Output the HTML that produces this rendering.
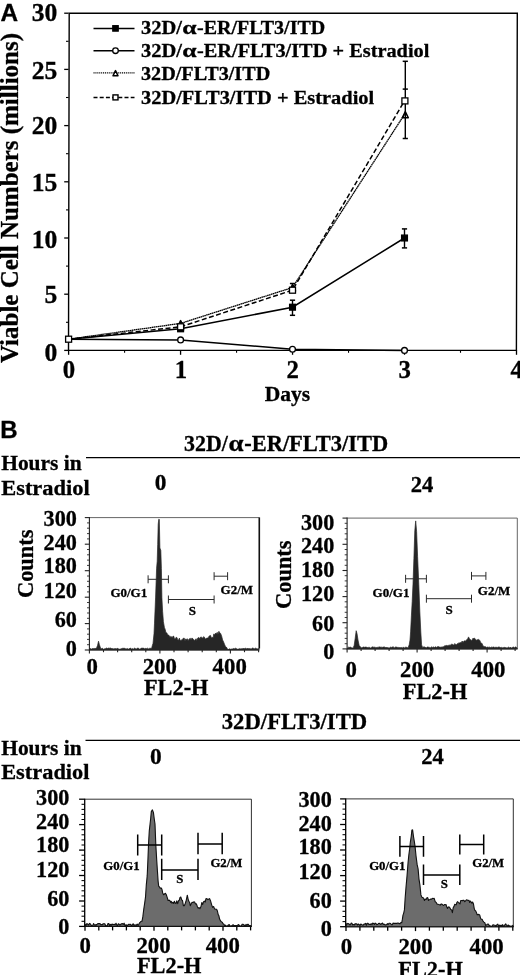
<!DOCTYPE html>
<html><head><meta charset="utf-8"><title>Figure</title>
<style>html,body{margin:0;padding:0;background:#fff}svg{display:block}</style></head>
<body><svg width="520" height="975" viewBox="0 0 520 975">
<rect width="520" height="975" fill="#fff"/>
<g font-family="Liberation Serif, serif" font-weight="bold" fill="#000" stroke="#000" stroke-width="0.3">
<polygon points="68.5,350.4 69.19999999999999,13.2 517.3,13.299999999999999 516.4,350.4" fill="none" stroke="#000" stroke-width="1.4"/>
<line x1="64.19999999999999" y1="350.40" x2="68.6" y2="350.40" stroke="#000" stroke-width="1.3"/>
<line x1="64.19999999999999" y1="294.20" x2="68.6" y2="294.20" stroke="#000" stroke-width="1.3"/>
<line x1="64.19999999999999" y1="238.00" x2="68.6" y2="238.00" stroke="#000" stroke-width="1.3"/>
<line x1="64.19999999999999" y1="181.80" x2="68.6" y2="181.80" stroke="#000" stroke-width="1.3"/>
<line x1="64.19999999999999" y1="125.60" x2="68.6" y2="125.60" stroke="#000" stroke-width="1.3"/>
<line x1="64.19999999999999" y1="69.40" x2="68.6" y2="69.40" stroke="#000" stroke-width="1.3"/>
<line x1="64.19999999999999" y1="13.20" x2="68.6" y2="13.20" stroke="#000" stroke-width="1.3"/>
<line x1="66.0" y1="322.30" x2="68.6" y2="322.30" stroke="#000" stroke-width="1.1"/>
<line x1="66.0" y1="266.10" x2="68.6" y2="266.10" stroke="#000" stroke-width="1.1"/>
<line x1="66.0" y1="209.90" x2="68.6" y2="209.90" stroke="#000" stroke-width="1.1"/>
<line x1="66.0" y1="153.70" x2="68.6" y2="153.70" stroke="#000" stroke-width="1.1"/>
<line x1="66.0" y1="97.50" x2="68.6" y2="97.50" stroke="#000" stroke-width="1.1"/>
<line x1="66.0" y1="41.30" x2="68.6" y2="41.30" stroke="#000" stroke-width="1.1"/>
<line x1="68.60" y1="350.4" x2="68.60" y2="354.79999999999995" stroke="#000" stroke-width="1.3"/>
<line x1="180.57" y1="350.4" x2="180.57" y2="354.79999999999995" stroke="#000" stroke-width="1.3"/>
<line x1="292.55" y1="350.4" x2="292.55" y2="354.79999999999995" stroke="#000" stroke-width="1.3"/>
<line x1="404.52" y1="350.4" x2="404.52" y2="354.79999999999995" stroke="#000" stroke-width="1.3"/>
<line x1="516.50" y1="350.4" x2="516.50" y2="354.79999999999995" stroke="#000" stroke-width="1.3"/>
<line x1="124.59" y1="350.4" x2="124.59" y2="352.79999999999995" stroke="#000" stroke-width="1.1"/>
<line x1="236.56" y1="350.4" x2="236.56" y2="352.79999999999995" stroke="#000" stroke-width="1.1"/>
<line x1="348.54" y1="350.4" x2="348.54" y2="352.79999999999995" stroke="#000" stroke-width="1.1"/>
<line x1="460.51" y1="350.4" x2="460.51" y2="352.79999999999995" stroke="#000" stroke-width="1.1"/>
<text x="57.3" y="361.4" font-size="25.6" text-anchor="end" >0</text>
<text x="57.3" y="303.2" font-size="25.6" text-anchor="end" >5</text>
<text x="57.3" y="247.6" font-size="25.6" text-anchor="end" >10</text>
<text x="57.3" y="191.2" font-size="25.6" text-anchor="end" >15</text>
<text x="57.3" y="133.6" font-size="25.6" text-anchor="end" >20</text>
<text x="57.3" y="79.3" font-size="25.6" text-anchor="end" >25</text>
<text x="57.3" y="20.8" font-size="25.6" text-anchor="end" >30</text>
<text x="68.9" y="378.2" font-size="24.8" text-anchor="middle" >0</text>
<text x="180.9" y="378.2" font-size="24.8" text-anchor="middle" >1</text>
<text x="292.8" y="378.2" font-size="24.8" text-anchor="middle" >2</text>
<text x="404.8" y="378.2" font-size="24.8" text-anchor="middle" >3</text>
<text x="516.8" y="378.2" font-size="24.8" text-anchor="middle" >4</text>
<text x="287.4" y="401.3" font-size="21.3" text-anchor="middle" textLength="45.5" lengthAdjust="spacingAndGlyphs" >Days</text>
<text transform="translate(18,363) rotate(-90)" font-size="25" textLength="330" lengthAdjust="spacingAndGlyphs">Viable Cell Numbers (millions)</text>
<text x="0.4" y="20.6" font-family="Liberation Sans, sans-serif" font-weight="bold" font-size="24" textLength="17.6" lengthAdjust="spacingAndGlyphs">A</text>
<polyline points="68.6,339.2 180.6,339.9 292.5,349.3 404.5,350.4" fill="none" stroke="#000" stroke-width="1.5"/>
<polyline points="68.6,339.2 180.6,328.8 292.5,307.2 404.5,238.0" fill="none" stroke="#000" stroke-width="1.5"/>
<polyline points="68.6,339.2 180.6,323.4 292.5,287.5 404.5,114.4" fill="none" stroke="#000" stroke-width="1.3" stroke-dasharray="1.6 0.4"/>
<polyline points="68.6,339.2 180.6,326.8 292.5,290.2 404.5,100.9" fill="none" stroke="#000" stroke-width="1.5" stroke-dasharray="5 2.5"/>
<line x1="292.5" y1="315.3" x2="292.5" y2="300.2" stroke="#000" stroke-width="1.4"/>
<line x1="289.9" y1="315.3" x2="295.1" y2="315.3" stroke="#000" stroke-width="1.5"/>
<line x1="289.9" y1="300.2" x2="295.1" y2="300.2" stroke="#000" stroke-width="1.5"/>
<line x1="404.5" y1="247.9" x2="404.5" y2="228.9" stroke="#000" stroke-width="1.4"/>
<line x1="401.9" y1="247.9" x2="407.1" y2="247.9" stroke="#000" stroke-width="1.5"/>
<line x1="401.9" y1="228.9" x2="407.1" y2="228.9" stroke="#000" stroke-width="1.5"/>
<line x1="405.3" y1="138.5" x2="405.3" y2="61.3" stroke="#000" stroke-width="1.4"/>
<line x1="402.7" y1="138.5" x2="407.9" y2="138.5" stroke="#000" stroke-width="1.5"/>
<line x1="402.7" y1="89.1" x2="407.9" y2="89.1" stroke="#000" stroke-width="1.5"/>
<line x1="402.7" y1="61.3" x2="407.9" y2="61.3" stroke="#000" stroke-width="1.5"/>
<line x1="292.5" y1="290.8" x2="292.5" y2="283.5" stroke="#000" stroke-width="1.4"/>
<line x1="289.9" y1="283.5" x2="295.1" y2="283.5" stroke="#000" stroke-width="1.5"/>
<line x1="180.6" y1="331.3" x2="180.6" y2="321.2" stroke="#000" stroke-width="1.4"/>
<polygon points="177.6,326.8 183.6,326.8 180.6,320.6" fill="none" stroke="#000" stroke-width="1.5" stroke-linejoin="round"/>
<polygon points="289.5,290.9 295.5,290.9 292.5,284.7" fill="none" stroke="#000" stroke-width="1.5" stroke-linejoin="round"/>
<polygon points="402.3,117.8 408.3,117.8 405.3,111.6" fill="none" stroke="#000" stroke-width="1.5" stroke-linejoin="round"/>
<rect x="177.7" y="325.9" width="5.8" height="5.8" fill="#000" stroke="#000" stroke-width="1.3"/>
<rect x="289.6" y="304.3" width="5.8" height="5.8" fill="#000" stroke="#000" stroke-width="1.3"/>
<rect x="401.6" y="235.1" width="5.8" height="5.8" fill="#000" stroke="#000" stroke-width="1.3"/>
<rect x="65.6" y="336.2" width="6.0" height="6.0" fill="#fff" stroke="#000" stroke-width="1.3"/>
<rect x="177.6" y="323.8" width="6.0" height="6.0" fill="#fff" stroke="#000" stroke-width="1.3"/>
<rect x="289.5" y="287.2" width="6.0" height="6.0" fill="#fff" stroke="#000" stroke-width="1.3"/>
<rect x="401.9" y="97.9" width="6.0" height="6.0" fill="#fff" stroke="#000" stroke-width="1.3"/>
<circle cx="180.6" cy="339.9" r="2.9" fill="#fff" stroke="#000" stroke-width="1.3"/>
<circle cx="292.5" cy="349.3" r="2.9" fill="#fff" stroke="#000" stroke-width="1.3"/>
<circle cx="404.5" cy="350.4" r="2.9" fill="#fff" stroke="#000" stroke-width="1.3"/>
<line x1="93.5" y1="28.4" x2="134.5" y2="28.4" stroke="#000" stroke-width="1.5"/>
<rect x="112.8" y="25.7" width="5.4" height="5.4" fill="#000" stroke="#000" stroke-width="1.3"/>
<text x="141.0" y="34.0" font-size="19.8" text-anchor="start" textLength="40.9" lengthAdjust="spacingAndGlyphs" >32D/</text>
<text x="182.3" y="34.0" font-size="19.8" text-anchor="start" textLength="14.3" lengthAdjust="spacingAndGlyphs" >α</text>
<text x="197.0" y="34.0" font-size="19.8" text-anchor="start" textLength="128.2" lengthAdjust="spacingAndGlyphs" >-ER/FLT3/ITD</text>
<line x1="93.5" y1="50.7" x2="134.5" y2="50.7" stroke="#000" stroke-width="1.5"/>
<circle cx="115.5" cy="50.7" r="2.8" fill="#fff" stroke="#000" stroke-width="1.3"/>
<text x="141.0" y="57.0" font-size="19.8" text-anchor="start" textLength="40.9" lengthAdjust="spacingAndGlyphs" >32D/</text>
<text x="182.3" y="57.0" font-size="19.8" text-anchor="start" textLength="14.3" lengthAdjust="spacingAndGlyphs" >α</text>
<text x="197.0" y="57.0" font-size="19.8" text-anchor="start" textLength="232.4" lengthAdjust="spacingAndGlyphs" >-ER/FLT3/ITD + Estradiol</text>
<line x1="93.5" y1="72.9" x2="134.5" y2="72.9" stroke="#000" stroke-width="1.3" stroke-dasharray="1.1 0.8"/>
<polygon points="113.0,75.8 118.0,75.8 115.5,70.6" fill="#fff" stroke="#000" stroke-width="1.5" stroke-linejoin="round"/>
<text x="141.0" y="79.9" font-size="19.8" text-anchor="start" textLength="129.2" lengthAdjust="spacingAndGlyphs" >32D/FLT3/ITD</text>
<line x1="93.5" y1="97.4" x2="134.5" y2="97.4" stroke="#000" stroke-width="1.5" stroke-dasharray="4 2.2"/>
<rect x="113.0" y="94.9" width="5.0" height="5.0" fill="#fff" stroke="#000" stroke-width="1.4"/>
<text x="141.0" y="103.6" font-size="19.8" text-anchor="start" textLength="233.2" lengthAdjust="spacingAndGlyphs" >32D/FLT3/ITD + Estradiol</text>
<text x="0.2" y="437.5" font-family="Liberation Sans, sans-serif" font-weight="bold" font-size="24">B</text>
<text x="184.0" y="450.8" font-size="22.4" text-anchor="start" textLength="43.8" lengthAdjust="spacingAndGlyphs" >32D/</text>
<text x="228.5" y="450.8" font-size="22.4" text-anchor="start" textLength="15.0" lengthAdjust="spacingAndGlyphs" >α</text>
<text x="244.2" y="450.8" font-size="22.4" text-anchor="start" textLength="144.0" lengthAdjust="spacingAndGlyphs" >-ER/FLT3/ITD</text>
<line x1="86" y1="457.6" x2="520" y2="457.6" stroke="#000" stroke-width="1.4"/>
<text x="1.2" y="469.7" font-size="21.6" text-anchor="start" textLength="80.5" lengthAdjust="spacingAndGlyphs" >Hours in</text>
<text x="1.2" y="495" font-size="21.6" text-anchor="start" textLength="88.5" lengthAdjust="spacingAndGlyphs" >Estradiol</text>
<text x="160.6" y="489.6" font-size="23.4" text-anchor="middle" >0</text>
<text x="422.1" y="491.5" font-size="23" text-anchor="middle" textLength="22.6" lengthAdjust="spacingAndGlyphs" >24</text>
<text x="294.5" y="729" font-size="22.7" text-anchor="middle" textLength="145.5" lengthAdjust="spacingAndGlyphs" >32D/FLT3/ITD</text>
<line x1="85.5" y1="740.4" x2="520" y2="740.4" stroke="#000" stroke-width="1.4"/>
<text x="1.2" y="754.8" font-size="21.6" text-anchor="start" textLength="80.5" lengthAdjust="spacingAndGlyphs" >Hours in</text>
<text x="1.2" y="779.2" font-size="21.6" text-anchor="start" textLength="88.3" lengthAdjust="spacingAndGlyphs" >Estradiol</text>
<text x="155.8" y="763.7" font-size="23.4" text-anchor="middle" >0</text>
<text x="432.5" y="763.5" font-size="23" text-anchor="middle" textLength="22.6" lengthAdjust="spacingAndGlyphs" >24</text>
<path d="M89.4,517.6 H259.0 V650.0" fill="none" stroke="#555" stroke-width="0.9"/>
<path d="M89.4,517.1 V650.0 H259.4" fill="none" stroke="#222" stroke-width="1.1"/>
<line x1="84.8" y1="517.6" x2="89.4" y2="517.6" stroke="#222" stroke-width="1.1"/>
<line x1="87.0" y1="522.9" x2="89.4" y2="522.9" stroke="#222" stroke-width="0.88"/>
<line x1="87.0" y1="528.2" x2="89.4" y2="528.2" stroke="#222" stroke-width="0.88"/>
<line x1="87.0" y1="533.6" x2="89.4" y2="533.6" stroke="#222" stroke-width="0.88"/>
<line x1="87.0" y1="538.9" x2="89.4" y2="538.9" stroke="#222" stroke-width="0.88"/>
<line x1="84.8" y1="544.2" x2="89.4" y2="544.2" stroke="#222" stroke-width="1.1"/>
<line x1="87.0" y1="549.5" x2="89.4" y2="549.5" stroke="#222" stroke-width="0.88"/>
<line x1="87.0" y1="554.8" x2="89.4" y2="554.8" stroke="#222" stroke-width="0.88"/>
<line x1="87.0" y1="560.1" x2="89.4" y2="560.1" stroke="#222" stroke-width="0.88"/>
<line x1="87.0" y1="565.4" x2="89.4" y2="565.4" stroke="#222" stroke-width="0.88"/>
<line x1="84.8" y1="570.7" x2="89.4" y2="570.7" stroke="#222" stroke-width="1.1"/>
<line x1="87.0" y1="576.0" x2="89.4" y2="576.0" stroke="#222" stroke-width="0.88"/>
<line x1="87.0" y1="581.3" x2="89.4" y2="581.3" stroke="#222" stroke-width="0.88"/>
<line x1="87.0" y1="586.6" x2="89.4" y2="586.6" stroke="#222" stroke-width="0.88"/>
<line x1="87.0" y1="591.9" x2="89.4" y2="591.9" stroke="#222" stroke-width="0.88"/>
<line x1="84.8" y1="597.2" x2="89.4" y2="597.2" stroke="#222" stroke-width="1.1"/>
<line x1="87.0" y1="602.5" x2="89.4" y2="602.5" stroke="#222" stroke-width="0.88"/>
<line x1="87.0" y1="607.8" x2="89.4" y2="607.8" stroke="#222" stroke-width="0.88"/>
<line x1="87.0" y1="613.0" x2="89.4" y2="613.0" stroke="#222" stroke-width="0.88"/>
<line x1="87.0" y1="618.3" x2="89.4" y2="618.3" stroke="#222" stroke-width="0.88"/>
<line x1="84.8" y1="623.6" x2="89.4" y2="623.6" stroke="#222" stroke-width="1.1"/>
<line x1="87.0" y1="628.9" x2="89.4" y2="628.9" stroke="#222" stroke-width="0.88"/>
<line x1="87.0" y1="634.2" x2="89.4" y2="634.2" stroke="#222" stroke-width="0.88"/>
<line x1="87.0" y1="639.4" x2="89.4" y2="639.4" stroke="#222" stroke-width="0.88"/>
<line x1="87.0" y1="644.7" x2="89.4" y2="644.7" stroke="#222" stroke-width="0.88"/>
<line x1="84.8" y1="650.0" x2="89.4" y2="650.0" stroke="#222" stroke-width="1.1"/>
<line x1="89.4" y1="650.0" x2="89.4" y2="653.5" stroke="#222" stroke-width="1.1"/>
<line x1="103.5" y1="650.0" x2="103.5" y2="652.2" stroke="#222" stroke-width="1.1"/>
<line x1="117.6" y1="650.0" x2="117.6" y2="652.2" stroke="#222" stroke-width="1.1"/>
<line x1="131.7" y1="650.0" x2="131.7" y2="652.2" stroke="#222" stroke-width="1.1"/>
<line x1="145.8" y1="650.0" x2="145.8" y2="652.2" stroke="#222" stroke-width="1.1"/>
<line x1="159.9" y1="650.0" x2="159.9" y2="653.5" stroke="#222" stroke-width="1.1"/>
<line x1="174.0" y1="650.0" x2="174.0" y2="652.2" stroke="#222" stroke-width="1.1"/>
<line x1="188.1" y1="650.0" x2="188.1" y2="652.2" stroke="#222" stroke-width="1.1"/>
<line x1="202.2" y1="650.0" x2="202.2" y2="652.2" stroke="#222" stroke-width="1.1"/>
<line x1="216.3" y1="650.0" x2="216.3" y2="652.2" stroke="#222" stroke-width="1.1"/>
<line x1="230.4" y1="650.0" x2="230.4" y2="653.5" stroke="#222" stroke-width="1.1"/>
<line x1="244.5" y1="650.0" x2="244.5" y2="652.2" stroke="#222" stroke-width="1.1"/>
<line x1="258.6" y1="650.0" x2="258.6" y2="652.2" stroke="#222" stroke-width="1.1"/>
<path d="M89.9,650.0 L89.9,648.5 L90.7,648.7 L91.6,649.1 L92.4,648.6 L93.3,648.6 L94.1,648.7 L95.0,648.2 L95.8,648.6 L96.6,647.7 L97.6,645.3 L98.5,641.2 L99.3,644.3 L100.2,647.1 L100.8,648.5 L101.4,648.8 L102.2,648.1 L103.0,649.2 L103.7,649.2 L104.5,648.8 L105.3,648.7 L106.1,648.2 L106.9,648.0 L107.7,648.6 L108.4,648.1 L109.2,648.2 L110.0,648.3 L110.8,648.0 L111.6,648.6 L112.4,648.5 L113.2,649.0 L114.0,648.6 L114.8,648.8 L115.6,648.6 L116.4,648.8 L117.2,648.5 L118.0,648.3 L118.8,649.2 L119.6,649.2 L120.4,649.0 L121.2,648.8 L122.0,648.4 L122.8,648.3 L123.6,648.3 L124.4,648.1 L125.2,648.9 L126.0,648.5 L126.8,649.0 L127.6,648.5 L128.4,649.1 L129.2,649.0 L130.0,648.0 L130.8,648.3 L131.6,649.1 L132.4,648.6 L133.2,649.2 L134.0,648.5 L134.8,648.1 L135.6,648.8 L136.4,648.9 L137.2,648.3 L138.0,648.1 L138.8,648.4 L139.6,649.2 L140.4,648.9 L141.2,648.1 L142.0,648.3 L142.8,648.1 L143.6,648.1 L144.4,649.0 L145.2,648.2 L146.0,648.7 L146.8,648.5 L147.6,648.2 L148.4,648.9 L149.2,648.2 L150.0,648.8 L150.8,648.1 L151.6,648.5 L152.3,645.6 L153.0,643.4 L154.0,633.7 L154.5,623.2 L155.6,597.1 L156.6,568.2 L157.2,561.3 L157.7,544.4 L158.2,524.3 L158.8,519.2 L159.3,519.4 L159.9,548.0 L160.8,550.3 L161.4,568.7 L161.9,597.8 L162.6,611.3 L163.4,621.7 L164.4,627.4 L165.2,629.4 L166.0,633.1 L166.8,632.8 L167.7,634.9 L168.5,635.1 L169.2,635.6 L170.0,637.6 L170.8,636.3 L171.5,636.8 L172.2,638.1 L173.0,636.1 L173.8,636.3 L174.5,639.0 L175.2,638.9 L176.0,637.4 L176.8,637.4 L177.7,639.4 L178.5,640.2 L179.4,638.1 L180.2,640.6 L181.0,640.4 L181.8,639.7 L182.6,639.2 L183.4,638.2 L184.2,638.1 L185.0,641.0 L185.8,638.8 L186.5,640.1 L187.3,638.7 L188.0,640.4 L188.8,639.7 L189.5,638.7 L190.3,638.3 L191.1,640.0 L191.9,638.0 L192.7,638.5 L193.6,639.5 L194.4,640.5 L195.2,639.7 L196.0,638.7 L196.8,640.5 L197.6,638.2 L198.4,637.4 L199.2,638.0 L200.0,638.4 L200.7,637.0 L201.5,637.2 L202.2,637.7 L202.9,638.2 L203.7,636.6 L204.4,637.2 L205.2,638.8 L205.9,639.1 L206.7,638.0 L207.5,638.1 L208.2,637.7 L209.0,636.2 L209.8,635.7 L210.6,635.4 L211.4,638.1 L212.2,637.3 L213.0,637.9 L213.8,633.9 L214.6,635.1 L215.5,633.1 L216.3,633.9 L217.2,632.3 L218.0,634.5 L218.9,631.3 L219.7,632.8 L220.6,633.4 L221.6,635.9 L222.6,639.9 L223.6,642.0 L224.5,644.3 L225.4,646.4 L226.3,647.0 L227.1,648.3 L227.8,649.5 L228.6,649.4 L229.4,648.8 L230.2,649.2 L231.0,649.3 L231.8,648.9 L232.6,648.9 L233.4,648.5 L234.2,648.7 L235.0,648.7 L235.8,648.1 L236.6,648.8 L237.4,649.2 L238.2,649.1 L239.1,648.9 L239.9,648.5 L240.7,648.9 L241.5,648.7 L242.3,648.5 L243.1,649.0 L243.9,648.1 L244.7,648.9 L245.5,648.0 L246.3,648.7 L247.2,648.6 L248.0,648.3 L248.8,648.8 L249.6,648.6 L250.4,648.7 L251.2,649.1 L252.0,648.3 L252.8,648.0 L253.6,648.4 L254.4,648.8 L255.3,648.2 L256.1,648.2 L256.9,649.1 L257.7,648.8 L258.5,648.5 L258.5,650.0 Z" fill="#262626" stroke="#262626" stroke-width="0.7" stroke-linejoin="round"/>
<path d="M148.1,579.3 H168.4 M148.1,575.3 V583.3 M168.4,575.3 V583.3" fill="none" stroke="#2a2a2a" stroke-width="1.0"/>
<path d="M168.4,599.5 H214.1 M168.4,595.5 V603.5 M214.1,595.5 V603.5" fill="none" stroke="#2a2a2a" stroke-width="1.0"/>
<path d="M214.1,576.2 H227.6 M214.1,572.2 V580.2 M227.6,572.2 V580.2" fill="none" stroke="#2a2a2a" stroke-width="1.0"/>
<text x="128.8" y="597.4" font-size="13" text-anchor="middle" >G0/G1</text>
<text x="192.3" y="615.0" font-size="13" text-anchor="middle" >S</text>
<text x="236.8" y="593.8" font-size="13" text-anchor="middle" >G2/M</text>
<text x="76.9" y="526.3" font-size="22.2" text-anchor="end" >300</text>
<text x="76.9" y="549.6" font-size="22.2" text-anchor="end" >240</text>
<text x="76.9" y="573.0" font-size="22.2" text-anchor="end" >180</text>
<text x="76.9" y="597.6" font-size="22.2" text-anchor="end" >120</text>
<text x="76.9" y="627.1" font-size="22.2" text-anchor="end" >60</text>
<text x="76.9" y="655.5" font-size="22.2" text-anchor="end" >0</text>
<text x="92.2" y="673.5" font-size="22.8" text-anchor="middle" >0</text>
<text x="159.8" y="673.5" font-size="22.8" text-anchor="middle" >200</text>
<text x="229.7" y="673.5" font-size="22.8" text-anchor="middle" >400</text>
<text x="176.2" y="694.6" font-size="22.4" text-anchor="middle" textLength="64.5" lengthAdjust="spacingAndGlyphs" >FL2-H</text>
<text transform="translate(33,563.8) rotate(-90)" font-size="22.5" text-anchor="middle" textLength="68.5" lengthAdjust="spacingAndGlyphs">Counts</text>
<line x1="259.4" y1="517.4" x2="259.4" y2="648.5" stroke="#111" stroke-width="1.4"/>
<path d="M347.1,518.1 H517.3 V648.9" fill="none" stroke="#555" stroke-width="0.9"/>
<path d="M347.1,517.6 V648.9 H517.6999999999999" fill="none" stroke="#222" stroke-width="1.1"/>
<line x1="342.5" y1="518.1" x2="347.1" y2="518.1" stroke="#222" stroke-width="1.1"/>
<line x1="344.7" y1="523.3" x2="347.1" y2="523.3" stroke="#222" stroke-width="0.88"/>
<line x1="344.7" y1="528.6" x2="347.1" y2="528.6" stroke="#222" stroke-width="0.88"/>
<line x1="344.7" y1="533.8" x2="347.1" y2="533.8" stroke="#222" stroke-width="0.88"/>
<line x1="344.7" y1="539.1" x2="347.1" y2="539.1" stroke="#222" stroke-width="0.88"/>
<line x1="342.5" y1="544.3" x2="347.1" y2="544.3" stroke="#222" stroke-width="1.1"/>
<line x1="344.7" y1="549.5" x2="347.1" y2="549.5" stroke="#222" stroke-width="0.88"/>
<line x1="344.7" y1="554.8" x2="347.1" y2="554.8" stroke="#222" stroke-width="0.88"/>
<line x1="344.7" y1="560.0" x2="347.1" y2="560.0" stroke="#222" stroke-width="0.88"/>
<line x1="344.7" y1="565.3" x2="347.1" y2="565.3" stroke="#222" stroke-width="0.88"/>
<line x1="342.5" y1="570.5" x2="347.1" y2="570.5" stroke="#222" stroke-width="1.1"/>
<line x1="344.7" y1="575.7" x2="347.1" y2="575.7" stroke="#222" stroke-width="0.88"/>
<line x1="344.7" y1="580.9" x2="347.1" y2="580.9" stroke="#222" stroke-width="0.88"/>
<line x1="344.7" y1="586.2" x2="347.1" y2="586.2" stroke="#222" stroke-width="0.88"/>
<line x1="344.7" y1="591.4" x2="347.1" y2="591.4" stroke="#222" stroke-width="0.88"/>
<line x1="342.5" y1="596.6" x2="347.1" y2="596.6" stroke="#222" stroke-width="1.1"/>
<line x1="344.7" y1="601.8" x2="347.1" y2="601.8" stroke="#222" stroke-width="0.88"/>
<line x1="344.7" y1="607.0" x2="347.1" y2="607.0" stroke="#222" stroke-width="0.88"/>
<line x1="344.7" y1="612.3" x2="347.1" y2="612.3" stroke="#222" stroke-width="0.88"/>
<line x1="344.7" y1="617.5" x2="347.1" y2="617.5" stroke="#222" stroke-width="0.88"/>
<line x1="342.5" y1="622.7" x2="347.1" y2="622.7" stroke="#222" stroke-width="1.1"/>
<line x1="344.7" y1="627.9" x2="347.1" y2="627.9" stroke="#222" stroke-width="0.88"/>
<line x1="344.7" y1="633.2" x2="347.1" y2="633.2" stroke="#222" stroke-width="0.88"/>
<line x1="344.7" y1="638.4" x2="347.1" y2="638.4" stroke="#222" stroke-width="0.88"/>
<line x1="344.7" y1="643.7" x2="347.1" y2="643.7" stroke="#222" stroke-width="0.88"/>
<line x1="342.5" y1="648.9" x2="347.1" y2="648.9" stroke="#222" stroke-width="1.1"/>
<line x1="347.1" y1="648.9" x2="347.1" y2="652.4" stroke="#222" stroke-width="1.1"/>
<line x1="361.1" y1="648.9" x2="361.1" y2="651.1" stroke="#222" stroke-width="1.1"/>
<line x1="375.1" y1="648.9" x2="375.1" y2="651.1" stroke="#222" stroke-width="1.1"/>
<line x1="389.1" y1="648.9" x2="389.1" y2="651.1" stroke="#222" stroke-width="1.1"/>
<line x1="403.1" y1="648.9" x2="403.1" y2="651.1" stroke="#222" stroke-width="1.1"/>
<line x1="417.1" y1="648.9" x2="417.1" y2="652.4" stroke="#222" stroke-width="1.1"/>
<line x1="431.1" y1="648.9" x2="431.1" y2="651.1" stroke="#222" stroke-width="1.1"/>
<line x1="445.1" y1="648.9" x2="445.1" y2="651.1" stroke="#222" stroke-width="1.1"/>
<line x1="459.1" y1="648.9" x2="459.1" y2="651.1" stroke="#222" stroke-width="1.1"/>
<line x1="473.1" y1="648.9" x2="473.1" y2="651.1" stroke="#222" stroke-width="1.1"/>
<line x1="487.1" y1="648.9" x2="487.1" y2="652.4" stroke="#222" stroke-width="1.1"/>
<line x1="501.1" y1="648.9" x2="501.1" y2="651.1" stroke="#222" stroke-width="1.1"/>
<line x1="515.1" y1="648.9" x2="515.1" y2="651.1" stroke="#222" stroke-width="1.1"/>
<path d="M347.6,648.9 L347.6,647.9 L348.4,647.2 L349.2,647.6 L350.0,647.0 L350.8,647.3 L351.6,647.8 L352.4,647.9 L353.2,647.9 L354.2,645.3 L355.2,638.2 L356.2,630.7 L357.0,633.6 L358.0,640.0 L359.2,645.6 L360.2,646.6 L361.2,647.7 L362.0,647.9 L362.8,647.1 L363.6,647.0 L364.4,647.3 L365.2,647.1 L366.0,647.1 L366.8,647.3 L367.6,647.6 L368.4,647.4 L369.2,647.2 L370.0,647.8 L370.8,648.0 L371.6,647.3 L372.4,646.9 L373.2,646.8 L374.0,647.8 L374.8,646.8 L375.6,647.7 L376.4,647.5 L377.2,647.2 L378.0,647.7 L378.8,646.8 L379.6,647.0 L380.4,647.3 L381.2,646.8 L382.0,647.8 L382.8,647.1 L383.6,647.0 L384.4,646.9 L385.2,647.6 L386.0,647.3 L386.8,647.6 L387.6,647.6 L388.4,647.8 L389.2,648.0 L390.0,647.6 L390.8,647.0 L391.6,647.4 L392.4,647.0 L393.2,646.8 L393.9,647.4 L394.7,647.7 L395.5,647.0 L396.3,647.1 L397.1,647.2 L397.9,647.6 L398.7,647.4 L399.5,647.5 L400.3,647.7 L401.1,647.3 L401.8,647.8 L402.6,647.9 L403.4,646.9 L404.2,647.9 L405.0,647.7 L405.8,647.0 L406.5,647.3 L407.2,647.6 L408.0,647.9 L409.2,644.8 L410.0,640.1 L410.6,631.9 L411.4,615.9 L412.2,601.5 L413.0,583.9 L413.9,558.6 L414.8,530.7 L415.7,520.9 L416.6,531.4 L417.6,556.6 L418.8,584.8 L419.8,611.1 L420.8,632.0 L421.6,644.9 L422.6,647.4 L423.4,646.9 L424.1,647.3 L424.9,646.8 L425.7,647.6 L426.5,647.7 L427.2,647.1 L428.0,646.9 L428.8,647.3 L429.6,647.4 L430.4,647.7 L431.2,647.3 L432.0,646.7 L432.8,647.7 L433.6,646.7 L434.4,647.6 L435.2,646.8 L436.0,647.0 L436.8,647.5 L437.6,646.6 L438.3,646.6 L439.1,647.0 L439.9,647.1 L440.7,647.2 L441.4,647.0 L442.2,647.2 L443.0,646.6 L443.8,646.9 L444.6,645.7 L445.3,645.7 L446.1,645.8 L446.9,645.2 L447.7,645.8 L448.4,645.4 L449.2,645.0 L450.0,645.4 L450.8,644.8 L451.6,644.2 L452.4,644.2 L453.2,645.0 L454.0,644.9 L454.8,643.5 L455.6,644.6 L456.4,644.7 L457.2,643.8 L458.0,643.7 L458.8,642.7 L459.7,643.0 L460.5,642.6 L461.3,642.5 L462.2,641.0 L463.0,642.5 L463.8,641.3 L464.5,640.8 L465.2,641.3 L466.0,640.5 L466.8,639.5 L467.7,639.1 L468.5,636.9 L469.5,638.9 L470.5,639.6 L471.3,640.4 L472.2,639.9 L473.0,638.1 L473.8,638.7 L474.5,638.1 L475.2,638.9 L476.0,639.9 L476.8,640.3 L477.7,639.6 L478.5,639.4 L479.4,639.9 L480.3,641.4 L481.1,643.4 L482.0,643.3 L483.0,646.0 L484.0,646.4 L484.8,646.7 L485.7,646.8 L486.5,647.4 L487.3,647.1 L488.2,647.2 L489.0,647.5 L489.8,646.9 L490.6,647.7 L491.4,646.9 L492.2,647.4 L493.0,647.1 L493.8,647.0 L494.6,647.4 L495.4,647.3 L496.1,647.3 L496.9,647.3 L497.7,647.4 L498.5,647.0 L499.3,647.0 L500.1,647.6 L500.9,647.6 L501.7,647.4 L502.5,647.8 L503.3,647.5 L504.1,647.8 L504.9,647.1 L505.7,647.7 L506.5,647.8 L507.3,647.9 L508.1,647.2 L508.9,647.2 L509.7,647.9 L510.4,647.1 L511.2,648.0 L512.0,647.9 L512.8,647.0 L513.6,647.1 L514.4,647.7 L515.2,647.1 L516.0,646.9 L516.8,647.8 L516.8,648.9 Z" fill="#262626" stroke="#262626" stroke-width="0.7" stroke-linejoin="round"/>
<path d="M405.6,578.8 H426.4 M405.6,574.8 V582.8 M426.4,574.8 V582.8" fill="none" stroke="#2a2a2a" stroke-width="1.0"/>
<path d="M426.4,598.7 H471.5 M426.4,594.7 V602.7 M471.5,594.7 V602.7" fill="none" stroke="#2a2a2a" stroke-width="1.0"/>
<path d="M471.5,575.9 H485.9 M471.5,571.9 V579.9 M485.9,571.9 V579.9" fill="none" stroke="#2a2a2a" stroke-width="1.0"/>
<text x="391.0" y="596.8" font-size="13" text-anchor="middle" >G0/G1</text>
<text x="449.0" y="613.6" font-size="13" text-anchor="middle" >S</text>
<text x="494.1" y="594.8" font-size="13" text-anchor="middle" >G2/M</text>
<text x="334.3" y="529.6" font-size="22.2" text-anchor="end" >300</text>
<text x="334.3" y="553.4" font-size="22.2" text-anchor="end" >240</text>
<text x="334.3" y="577.1" font-size="22.2" text-anchor="end" >180</text>
<text x="334.3" y="601.4" font-size="22.2" text-anchor="end" >120</text>
<text x="334.3" y="630.9" font-size="22.2" text-anchor="end" >60</text>
<text x="334.3" y="659.1" font-size="22.2" text-anchor="end" >0</text>
<text x="351.2" y="676.7" font-size="22.8" text-anchor="middle" >0</text>
<text x="417.1" y="676.7" font-size="22.8" text-anchor="middle" >200</text>
<text x="488.4" y="676.7" font-size="22.8" text-anchor="middle" >400</text>
<text x="435" y="698.5" font-size="22.4" text-anchor="middle" textLength="64.5" lengthAdjust="spacingAndGlyphs" >FL2-H</text>
<text transform="translate(291.4,574.7) rotate(-90)" font-size="22.5" text-anchor="middle" textLength="68.5" lengthAdjust="spacingAndGlyphs">Counts</text>
<path d="M84.7,799.2 H251.4 V926.4" fill="none" stroke="#1a1a1a" stroke-width="0.9"/>
<path d="M84.7,798.7 V926.4 H251.8" fill="none" stroke="#000" stroke-width="1.3"/>
<line x1="79.1" y1="799.2" x2="84.7" y2="799.2" stroke="#000" stroke-width="1.3"/>
<line x1="81.5" y1="804.3" x2="84.7" y2="804.3" stroke="#000" stroke-width="1.04"/>
<line x1="81.5" y1="809.4" x2="84.7" y2="809.4" stroke="#000" stroke-width="1.04"/>
<line x1="81.5" y1="814.4" x2="84.7" y2="814.4" stroke="#000" stroke-width="1.04"/>
<line x1="81.5" y1="819.5" x2="84.7" y2="819.5" stroke="#000" stroke-width="1.04"/>
<line x1="79.1" y1="824.6" x2="84.7" y2="824.6" stroke="#000" stroke-width="1.3"/>
<line x1="81.5" y1="829.7" x2="84.7" y2="829.7" stroke="#000" stroke-width="1.04"/>
<line x1="81.5" y1="834.8" x2="84.7" y2="834.8" stroke="#000" stroke-width="1.04"/>
<line x1="81.5" y1="839.9" x2="84.7" y2="839.9" stroke="#000" stroke-width="1.04"/>
<line x1="81.5" y1="845.0" x2="84.7" y2="845.0" stroke="#000" stroke-width="1.04"/>
<line x1="79.1" y1="850.1" x2="84.7" y2="850.1" stroke="#000" stroke-width="1.3"/>
<line x1="81.5" y1="855.2" x2="84.7" y2="855.2" stroke="#000" stroke-width="1.04"/>
<line x1="81.5" y1="860.3" x2="84.7" y2="860.3" stroke="#000" stroke-width="1.04"/>
<line x1="81.5" y1="865.3" x2="84.7" y2="865.3" stroke="#000" stroke-width="1.04"/>
<line x1="81.5" y1="870.4" x2="84.7" y2="870.4" stroke="#000" stroke-width="1.04"/>
<line x1="79.1" y1="875.5" x2="84.7" y2="875.5" stroke="#000" stroke-width="1.3"/>
<line x1="81.5" y1="880.6" x2="84.7" y2="880.6" stroke="#000" stroke-width="1.04"/>
<line x1="81.5" y1="885.7" x2="84.7" y2="885.7" stroke="#000" stroke-width="1.04"/>
<line x1="81.5" y1="890.8" x2="84.7" y2="890.8" stroke="#000" stroke-width="1.04"/>
<line x1="81.5" y1="895.9" x2="84.7" y2="895.9" stroke="#000" stroke-width="1.04"/>
<line x1="79.1" y1="901.0" x2="84.7" y2="901.0" stroke="#000" stroke-width="1.3"/>
<line x1="81.5" y1="906.1" x2="84.7" y2="906.1" stroke="#000" stroke-width="1.04"/>
<line x1="81.5" y1="911.2" x2="84.7" y2="911.2" stroke="#000" stroke-width="1.04"/>
<line x1="81.5" y1="916.2" x2="84.7" y2="916.2" stroke="#000" stroke-width="1.04"/>
<line x1="81.5" y1="921.3" x2="84.7" y2="921.3" stroke="#000" stroke-width="1.04"/>
<line x1="79.1" y1="926.4" x2="84.7" y2="926.4" stroke="#000" stroke-width="1.3"/>
<line x1="85.0" y1="926.4" x2="85.0" y2="930.8" stroke="#000" stroke-width="1.3"/>
<line x1="98.8" y1="926.4" x2="98.8" y2="930.4" stroke="#000" stroke-width="1.3"/>
<line x1="112.6" y1="926.4" x2="112.6" y2="930.4" stroke="#000" stroke-width="1.3"/>
<line x1="126.4" y1="926.4" x2="126.4" y2="930.4" stroke="#000" stroke-width="1.3"/>
<line x1="140.2" y1="926.4" x2="140.2" y2="930.4" stroke="#000" stroke-width="1.3"/>
<line x1="154.0" y1="926.4" x2="154.0" y2="930.8" stroke="#000" stroke-width="1.3"/>
<line x1="167.8" y1="926.4" x2="167.8" y2="930.4" stroke="#000" stroke-width="1.3"/>
<line x1="181.6" y1="926.4" x2="181.6" y2="930.4" stroke="#000" stroke-width="1.3"/>
<line x1="195.4" y1="926.4" x2="195.4" y2="930.4" stroke="#000" stroke-width="1.3"/>
<line x1="209.2" y1="926.4" x2="209.2" y2="930.4" stroke="#000" stroke-width="1.3"/>
<line x1="223.0" y1="926.4" x2="223.0" y2="930.8" stroke="#000" stroke-width="1.3"/>
<line x1="236.8" y1="926.4" x2="236.8" y2="930.4" stroke="#000" stroke-width="1.3"/>
<line x1="250.6" y1="926.4" x2="250.6" y2="930.4" stroke="#000" stroke-width="1.3"/>
<path d="M85.3,926.4 L85.3,924.3 L86.1,925.2 L86.9,923.6 L87.8,924.3 L88.6,925.0 L89.4,923.4 L90.2,923.8 L91.0,925.0 L91.8,925.5 L92.7,925.7 L93.5,923.6 L94.3,924.6 L95.1,925.2 L95.9,924.6 L96.7,925.0 L97.5,923.8 L98.4,923.6 L99.2,923.6 L100.0,923.5 L100.8,924.7 L101.6,924.6 L102.4,924.7 L103.2,923.7 L104.0,923.8 L104.8,923.8 L105.6,925.4 L106.4,925.7 L107.2,925.6 L108.0,923.5 L108.8,923.5 L109.6,925.6 L110.4,924.4 L111.2,925.1 L112.0,924.1 L112.8,924.4 L113.6,924.5 L114.4,924.3 L115.2,924.7 L116.0,923.3 L116.8,924.9 L117.6,925.3 L118.4,923.7 L119.2,924.3 L120.0,925.0 L120.8,924.2 L121.6,923.7 L122.5,923.6 L123.3,924.4 L124.1,923.2 L124.9,925.3 L125.7,925.1 L126.5,924.9 L127.4,925.2 L128.2,924.7 L129.0,924.1 L129.8,924.6 L130.6,924.4 L131.5,925.5 L132.3,925.1 L133.1,923.7 L133.9,925.3 L134.7,924.9 L135.5,925.0 L136.4,925.1 L137.2,924.1 L138.0,925.3 L138.8,924.3 L139.5,923.0 L140.3,922.2 L141.1,921.3 L142.0,921.3 L142.8,916.9 L143.7,909.7 L144.6,903.6 L145.5,897.2 L146.3,884.9 L147.2,875.9 L147.9,859.9 L148.6,842.6 L149.3,830.6 L150.0,824.5 L150.7,818.2 L151.3,811.6 L152.4,809.9 L153.4,812.4 L154.2,818.5 L155.0,824.0 L155.8,844.5 L156.7,859.9 L157.4,870.5 L158.1,881.1 L158.7,886.3 L159.3,886.7 L160.2,888.2 L161.0,887.9 L161.9,889.1 L162.7,892.9 L163.6,894.8 L164.5,894.0 L165.4,893.3 L166.2,894.5 L167.1,897.2 L168.1,900.5 L169.1,900.2 L169.8,900.4 L170.6,902.4 L171.3,901.4 L172.0,903.2 L172.8,902.4 L173.6,903.3 L174.4,901.2 L175.2,903.3 L176.0,903.6 L176.8,900.9 L177.7,903.7 L178.5,900.8 L179.3,900.2 L180.0,897.5 L180.8,897.0 L181.7,899.9 L182.5,900.5 L183.4,905.6 L184.3,905.8 L185.2,903.6 L186.0,901.3 L186.7,898.0 L187.3,895.2 L188.1,899.1 L188.8,901.2 L189.6,902.3 L190.3,905.7 L191.2,903.8 L192.1,902.3 L193.0,902.6 L193.8,901.8 L194.6,902.0 L195.4,903.9 L196.4,903.9 L197.4,906.8 L198.2,908.1 L199.0,907.6 L200.0,908.6 L201.0,906.5 L201.8,902.5 L202.7,904.4 L203.5,901.8 L204.3,901.1 L205.2,902.0 L206.0,898.6 L206.9,898.8 L207.9,899.6 L208.8,899.1 L209.6,898.6 L210.5,900.7 L211.6,904.6 L212.6,907.4 L213.6,906.5 L214.6,908.9 L215.6,909.2 L216.6,909.3 L217.4,911.0 L218.2,914.6 L218.9,915.8 L219.6,919.1 L220.6,921.0 L221.6,921.9 L222.3,922.2 L223.0,923.7 L223.7,924.1 L224.4,925.3 L225.2,925.0 L225.9,926.1 L226.7,926.1 L227.5,926.1 L228.4,924.9 L229.2,924.6 L230.0,926.1 L230.8,926.1 L231.7,925.7 L232.5,925.1 L233.3,924.8 L234.2,925.8 L235.0,925.5 L235.8,925.5 L236.6,925.6 L237.4,925.9 L238.2,924.6 L238.9,924.7 L239.7,926.1 L240.5,926.1 L241.3,926.1 L242.1,924.2 L242.9,924.3 L243.7,924.8 L244.5,925.2 L245.3,925.7 L246.1,924.4 L246.9,925.5 L247.6,924.4 L248.4,924.4 L249.2,925.8 L250.0,925.5 L250.8,925.7 L250.8,926.4 Z" fill="#6c6c6c" stroke="#111" stroke-width="1.1" stroke-linejoin="round"/>
<path d="M137.7,845.0 H161.7 M137.7,834.5 V855.6 M161.7,834.5 V855.6" fill="none" stroke="#000" stroke-width="1.5"/>
<path d="M161.7,869.9 H198.0 M161.7,858.8 V880.0 M198.0,858.8 V880.0" fill="none" stroke="#000" stroke-width="1.5"/>
<path d="M198.0,844.1 H222.2 M198.0,832.8 V854.3 M222.2,832.8 V854.3" fill="none" stroke="#000" stroke-width="1.5"/>
<text x="121.5" y="869.6" font-size="12.8" text-anchor="middle" >G0/G1</text>
<text x="179.8" y="882.9" font-size="12.8" text-anchor="middle" >S</text>
<text x="226.4" y="867.1" font-size="12.8" text-anchor="middle" >G2/M</text>
<text x="69.4" y="805.4" font-size="22.2" text-anchor="end" >300</text>
<text x="69.4" y="829.2" font-size="22.2" text-anchor="end" >240</text>
<text x="69.4" y="852.1" font-size="22.2" text-anchor="end" >180</text>
<text x="69.4" y="877.0" font-size="22.2" text-anchor="end" >120</text>
<text x="69.4" y="906.2" font-size="22.2" text-anchor="end" >60</text>
<text x="69.4" y="934.1" font-size="22.2" text-anchor="end" >0</text>
<text x="85.3" y="952.8" font-size="22.8" text-anchor="middle" >0</text>
<text x="153.5" y="952.8" font-size="22.8" text-anchor="middle" >200</text>
<text x="222.8" y="952.8" font-size="22.8" text-anchor="middle" >400</text>
<text x="169.2" y="972.6" font-size="22.4" text-anchor="middle" textLength="64.5" lengthAdjust="spacingAndGlyphs" >FL2-H</text>
<path d="M345.7,798.9 H513.3 V926.7" fill="none" stroke="#1a1a1a" stroke-width="0.9"/>
<path d="M345.7,798.4 V926.7 H513.6999999999999" fill="none" stroke="#000" stroke-width="1.3"/>
<line x1="340.1" y1="798.9" x2="345.7" y2="798.9" stroke="#000" stroke-width="1.3"/>
<line x1="342.5" y1="804.0" x2="345.7" y2="804.0" stroke="#000" stroke-width="1.04"/>
<line x1="342.5" y1="809.1" x2="345.7" y2="809.1" stroke="#000" stroke-width="1.04"/>
<line x1="342.5" y1="814.3" x2="345.7" y2="814.3" stroke="#000" stroke-width="1.04"/>
<line x1="342.5" y1="819.4" x2="345.7" y2="819.4" stroke="#000" stroke-width="1.04"/>
<line x1="340.1" y1="824.5" x2="345.7" y2="824.5" stroke="#000" stroke-width="1.3"/>
<line x1="342.5" y1="829.6" x2="345.7" y2="829.6" stroke="#000" stroke-width="1.04"/>
<line x1="342.5" y1="834.7" x2="345.7" y2="834.7" stroke="#000" stroke-width="1.04"/>
<line x1="342.5" y1="839.8" x2="345.7" y2="839.8" stroke="#000" stroke-width="1.04"/>
<line x1="342.5" y1="844.9" x2="345.7" y2="844.9" stroke="#000" stroke-width="1.04"/>
<line x1="340.1" y1="850.0" x2="345.7" y2="850.0" stroke="#000" stroke-width="1.3"/>
<line x1="342.5" y1="855.1" x2="345.7" y2="855.1" stroke="#000" stroke-width="1.04"/>
<line x1="342.5" y1="860.2" x2="345.7" y2="860.2" stroke="#000" stroke-width="1.04"/>
<line x1="342.5" y1="865.4" x2="345.7" y2="865.4" stroke="#000" stroke-width="1.04"/>
<line x1="342.5" y1="870.5" x2="345.7" y2="870.5" stroke="#000" stroke-width="1.04"/>
<line x1="340.1" y1="875.6" x2="345.7" y2="875.6" stroke="#000" stroke-width="1.3"/>
<line x1="342.5" y1="880.7" x2="345.7" y2="880.7" stroke="#000" stroke-width="1.04"/>
<line x1="342.5" y1="885.8" x2="345.7" y2="885.8" stroke="#000" stroke-width="1.04"/>
<line x1="342.5" y1="890.9" x2="345.7" y2="890.9" stroke="#000" stroke-width="1.04"/>
<line x1="342.5" y1="896.0" x2="345.7" y2="896.0" stroke="#000" stroke-width="1.04"/>
<line x1="340.1" y1="901.1" x2="345.7" y2="901.1" stroke="#000" stroke-width="1.3"/>
<line x1="342.5" y1="906.2" x2="345.7" y2="906.2" stroke="#000" stroke-width="1.04"/>
<line x1="342.5" y1="911.3" x2="345.7" y2="911.3" stroke="#000" stroke-width="1.04"/>
<line x1="342.5" y1="916.5" x2="345.7" y2="916.5" stroke="#000" stroke-width="1.04"/>
<line x1="342.5" y1="921.6" x2="345.7" y2="921.6" stroke="#000" stroke-width="1.04"/>
<line x1="340.1" y1="926.7" x2="345.7" y2="926.7" stroke="#000" stroke-width="1.3"/>
<line x1="346.0" y1="926.7" x2="346.0" y2="931.1" stroke="#000" stroke-width="1.3"/>
<line x1="359.9" y1="926.7" x2="359.9" y2="930.7" stroke="#000" stroke-width="1.3"/>
<line x1="373.8" y1="926.7" x2="373.8" y2="930.7" stroke="#000" stroke-width="1.3"/>
<line x1="387.7" y1="926.7" x2="387.7" y2="930.7" stroke="#000" stroke-width="1.3"/>
<line x1="401.6" y1="926.7" x2="401.6" y2="930.7" stroke="#000" stroke-width="1.3"/>
<line x1="415.5" y1="926.7" x2="415.5" y2="931.1" stroke="#000" stroke-width="1.3"/>
<line x1="429.4" y1="926.7" x2="429.4" y2="930.7" stroke="#000" stroke-width="1.3"/>
<line x1="443.3" y1="926.7" x2="443.3" y2="930.7" stroke="#000" stroke-width="1.3"/>
<line x1="457.2" y1="926.7" x2="457.2" y2="930.7" stroke="#000" stroke-width="1.3"/>
<line x1="471.1" y1="926.7" x2="471.1" y2="930.7" stroke="#000" stroke-width="1.3"/>
<line x1="485.0" y1="926.7" x2="485.0" y2="931.1" stroke="#000" stroke-width="1.3"/>
<line x1="498.9" y1="926.7" x2="498.9" y2="930.7" stroke="#000" stroke-width="1.3"/>
<line x1="512.8" y1="926.7" x2="512.8" y2="930.7" stroke="#000" stroke-width="1.3"/>
<path d="M346.3,926.7 L346.3,923.7 L347.1,924.0 L347.9,923.4 L348.7,923.7 L349.5,924.7 L350.3,924.9 L351.1,923.1 L351.9,923.3 L352.7,924.9 L353.6,924.5 L354.4,924.9 L355.2,923.6 L356.0,924.1 L356.8,923.7 L357.6,925.1 L358.4,924.0 L359.2,924.7 L360.0,925.6 L360.8,924.0 L361.6,924.5 L362.4,924.9 L363.2,925.3 L364.0,924.1 L364.8,924.0 L365.6,923.3 L366.4,925.2 L367.2,923.2 L368.0,923.2 L368.8,924.4 L369.6,924.2 L370.4,924.6 L371.2,923.7 L372.0,924.8 L372.8,923.1 L373.6,923.4 L374.4,924.5 L375.2,923.1 L376.0,923.6 L376.8,924.6 L377.6,924.5 L378.4,923.5 L379.2,923.2 L380.0,923.7 L380.8,924.5 L381.6,923.6 L382.5,923.0 L383.3,924.4 L384.1,924.1 L384.9,924.9 L385.7,924.9 L386.5,924.8 L387.4,923.7 L388.2,924.5 L389.0,923.3 L389.8,923.3 L390.6,923.5 L391.5,924.8 L392.3,924.7 L393.1,923.1 L393.9,923.4 L394.7,923.4 L395.5,923.3 L396.4,923.4 L397.2,923.4 L398.0,922.9 L399.0,923.4 L400.0,923.7 L400.9,922.6 L401.7,922.8 L402.4,919.2 L403.0,915.1 L403.7,913.1 L404.4,909.9 L405.1,898.8 L405.9,888.6 L407.0,876.1 L408.0,863.2 L408.8,855.3 L409.6,849.4 L410.4,841.8 L411.2,836.6 L411.9,830.0 L412.6,829.9 L413.5,836.5 L414.5,842.7 L415.2,847.6 L416.0,855.8 L417.2,864.9 L418.1,868.9 L419.0,879.1 L419.9,884.8 L420.9,894.9 L421.7,896.8 L422.5,897.6 L423.5,898.0 L424.5,900.5 L425.3,899.1 L426.2,899.5 L427.0,897.6 L427.8,897.8 L428.5,900.5 L429.2,899.7 L430.0,899.5 L430.8,899.0 L431.6,899.1 L432.4,898.4 L433.2,898.5 L434.2,898.4 L435.2,901.7 L436.2,902.4 L437.2,904.3 L438.0,904.3 L438.7,904.5 L439.5,904.7 L440.2,905.1 L441.0,904.1 L441.9,904.0 L442.7,904.9 L443.6,905.5 L444.4,904.5 L445.3,904.8 L446.0,904.5 L446.8,907.1 L447.5,908.5 L448.3,907.0 L449.0,906.9 L449.9,907.8 L450.7,909.4 L451.5,909.7 L452.4,912.7 L453.2,907.7 L454.0,906.4 L454.7,904.3 L455.4,904.6 L456.2,904.8 L456.9,902.4 L457.7,901.7 L458.5,902.8 L459.2,903.0 L460.0,903.8 L460.8,900.5 L461.6,900.5 L462.4,900.6 L463.1,900.4 L463.9,900.2 L464.7,901.7 L465.5,901.0 L466.4,899.9 L467.2,900.0 L468.1,900.5 L469.0,900.3 L469.7,902.5 L470.4,901.1 L471.2,902.0 L471.9,903.1 L472.6,902.0 L473.4,903.7 L474.2,908.3 L474.9,910.4 L475.6,910.7 L476.4,912.4 L477.2,914.8 L478.0,914.4 L478.9,914.6 L479.7,915.0 L480.6,918.4 L481.4,919.3 L482.2,919.4 L483.0,921.1 L483.9,922.1 L484.8,922.7 L485.7,925.5 L486.5,924.9 L487.3,924.2 L488.1,923.9 L488.9,925.3 L489.7,925.3 L490.5,926.3 L491.3,926.2 L492.1,925.9 L492.9,924.9 L493.6,924.9 L494.4,925.3 L495.2,925.2 L496.0,926.4 L496.9,924.8 L497.8,924.1 L498.6,926.0 L499.4,925.2 L500.2,925.9 L501.0,925.0 L501.9,926.4 L502.7,924.6 L503.5,926.4 L504.2,925.7 L504.9,924.8 L505.7,923.9 L506.5,925.2 L507.3,926.3 L508.1,924.9 L508.9,925.8 L509.6,925.8 L510.4,926.4 L511.2,926.1 L512.0,926.4 L512.8,925.4 L512.8,926.7 Z" fill="#6c6c6c" stroke="#111" stroke-width="1.1" stroke-linejoin="round"/>
<path d="M399.9,846.6 H423.5 M399.9,835.9 V856.7 M423.5,835.9 V856.7" fill="none" stroke="#000" stroke-width="1.5"/>
<path d="M423.5,874.9 H459.8 M423.5,864.5 V885.0 M459.8,864.5 V885.0" fill="none" stroke="#000" stroke-width="1.5"/>
<path d="M459.8,844.5 H483.7 M459.8,834.4 V854.6 M483.7,834.4 V854.6" fill="none" stroke="#000" stroke-width="1.5"/>
<text x="387.3" y="870.0" font-size="12.8" text-anchor="middle" >G0/G1</text>
<text x="444.3" y="887.9" font-size="12.8" text-anchor="middle" >S</text>
<text x="488.2" y="866.7" font-size="12.8" text-anchor="middle" >G2/M</text>
<text x="331.8" y="807.0" font-size="22.2" text-anchor="end" >300</text>
<text x="331.8" y="830.8" font-size="22.2" text-anchor="end" >240</text>
<text x="331.8" y="854.1" font-size="22.2" text-anchor="end" >180</text>
<text x="331.8" y="879.2" font-size="22.2" text-anchor="end" >120</text>
<text x="331.8" y="907.9" font-size="22.2" text-anchor="end" >60</text>
<text x="331.8" y="935.7" font-size="22.2" text-anchor="end" >0</text>
<text x="346.4" y="954.3" font-size="22.8" text-anchor="middle" >0</text>
<text x="415.5" y="954.3" font-size="22.8" text-anchor="middle" >200</text>
<text x="486.6" y="954.3" font-size="22.8" text-anchor="middle" >400</text>
<text x="430.5" y="977" font-size="22.4" text-anchor="middle" textLength="64.5" lengthAdjust="spacingAndGlyphs" >FL2-H</text>
</g>
</svg></body></html>
